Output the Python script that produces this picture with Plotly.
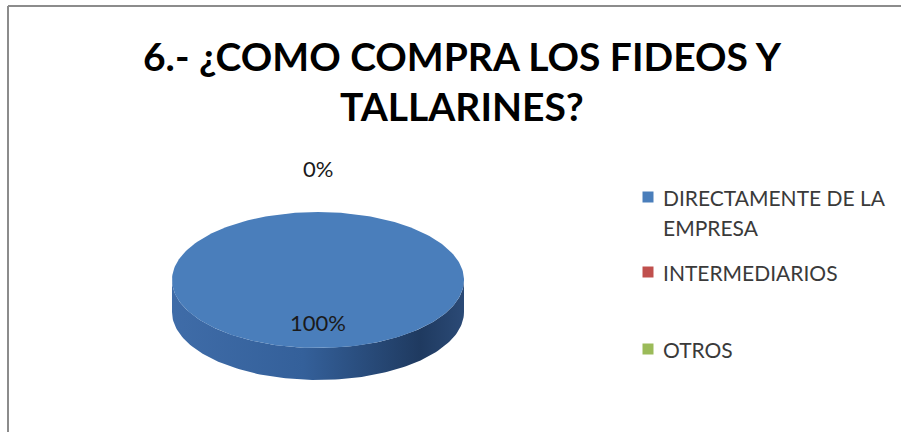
import numpy as np
import plotly.graph_objects as go

# ---- data -------------------------------------------------------------
title_lines = ["6.- ¿COMO COMPRA LOS FIDEOS Y", "TALLARINES?"]
categories = ["DIRECTAMENTE DE LA EMPRESA", "INTERMEDIARIOS", "OTROS"]
values = [100, 0, 0]
colors = ["#4a7ebb", "#c0504d", "#9bbb59"]
legend_lines = [["DIRECTAMENTE DE LA", "EMPRESA"], ["INTERMEDIARIOS"], ["OTROS"]]

# ---- geometry of the tilted pie (pixel space) --------------------------
W, H = 901, 432
CX, CY = 318, 280          # centre of the top face
RX, RY = 146, 68           # ellipse radii of the top face
DEPTH = 32                 # thickness of the side wall
FONT = "Lato"

total = float(sum(values))
shares = [v / total for v in values]
starts = np.cumsum([0] + shares[:-1])


def ell(t, dy=0.0):
    """Point on the ellipse for screen angle t (deg, 0 = right, clockwise)."""
    r = np.radians(t)
    return CX + RX * np.cos(r), CY + RY * np.sin(r) + dy


fig = go.Figure()

# side walls (only the front half, 0..180 deg, is visible)
for share, s, col in zip(shares, starts, colors):
    if share <= 0:
        continue
    a0 = -90 + 360 * s
    a1 = a0 + 360 * share
    segs = []
    for off in (0, -360):
        l2, h2 = max(a0 + off, 0), min(a1 + off, 180)
        if h2 > l2:
            segs.append((l2, h2))
    for l2, h2 in segs:
        t = np.linspace(l2, h2, 120)
        xt, yt = ell(t)
        xb, yb = ell(t[::-1], DEPTH)
        fig.add_trace(go.Scatter(
            x=np.concatenate([xt, xb]), y=np.concatenate([yt, yb]),
            mode="lines", line=dict(width=0), fill="toself",
            fillgradient=dict(type="horizontal", colorscale=[
                [0.0, "#3f6ca8"], [0.45, "#34609a"],
                [0.85, "#1f3a60"], [1.0, "#2b4a76"]]),
            hoverinfo="skip", showlegend=False))

# top faces
for share, s, col in zip(shares, starts, colors):
    if share <= 0:
        continue
    a0 = -90 + 360 * s
    a1 = a0 + 360 * share
    t = np.linspace(a0, a1, 240)
    xs, ys = ell(t)
    if share < 1:
        xs = np.concatenate([[CX], xs, [CX]])
        ys = np.concatenate([[CY], ys, [CY]])
    fig.add_trace(go.Scatter(
        x=xs, y=ys, mode="lines", line=dict(width=0), fill="toself",
        fillcolor=col, hoverinfo="skip", showlegend=False))

# percentage labels
annotations = []
seen = set()
for share, s in zip(shares, starts):
    mid = -90 + 360 * (s + share / 2)
    r = np.radians(mid)
    if share > 0:
        lx, ly = CX + 0.6 * RX * np.cos(r), CY + 0.63 * RY * np.sin(r)
    else:
        lx, ly = CX + 1.6 * RX * np.cos(r), CY + 1.64 * RY * np.sin(r)
    key = (round(lx), round(ly))
    if key in seen:
        continue
    seen.add(key)
    annotations.append(dict(
        x=lx, y=ly, xref="x", yref="y", showarrow=False,
        text=f"{share * 100:.0f}%",
        font=dict(family=FONT, size=22, color="#1a1a1a")))

# title
for i, line in enumerate(title_lines):
    annotations.append(dict(
        x=462, y=56 + 50 * i, xref="x", yref="y", showarrow=False,
        text=f"<b>{line}</b>",
        font=dict(family=FONT, size=39, color="#000000")))

# legend
legend_y = [197, 272, 349]
fig.add_trace(go.Scatter(
    x=[648] * len(categories), y=legend_y, mode="markers",
    marker=dict(symbol="square", size=11, color=colors, line=dict(width=0)),
    hoverinfo="skip", showlegend=False))
for lines, y0 in zip(legend_lines, legend_y):
    for j, txt in enumerate(lines):
        annotations.append(dict(
            x=661, y=y0 + 30 * j, xref="x", yref="y", showarrow=False,
            xanchor="left", text=txt,
            font=dict(family=FONT, size=21, color="#3a3a3a")))

# chart frame (top and left edges)
shapes = [
    dict(type="line", xref="x", yref="y", x0=8, x1=W, y0=6, y1=6,
         line=dict(color="#8c8c8c", width=2)),
    dict(type="line", xref="x", yref="y", x0=8, x1=8, y0=6, y1=H,
         line=dict(color="#8c8c8c", width=2)),
]

fig.update_layout(
    width=W, height=H, margin=dict(l=0, r=0, t=0, b=0),
    paper_bgcolor="white", plot_bgcolor="white",
    xaxis=dict(range=[0, W], visible=False, fixedrange=True),
    yaxis=dict(range=[H, 0], visible=False, fixedrange=True),
    annotations=annotations, shapes=shapes, showlegend=False,
)

fig.write_html("out.html")
